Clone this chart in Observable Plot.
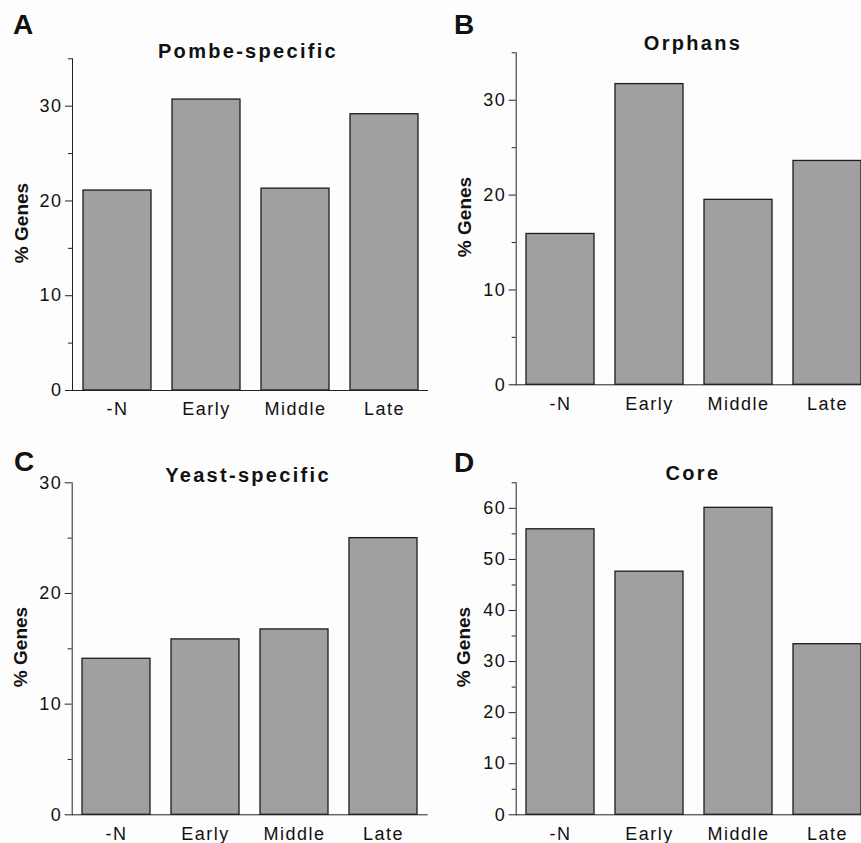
<!DOCTYPE html>
<html>
<head>
<meta charset="utf-8">
<script src="https://cdn.jsdelivr.net/npm/d3@7"></script>
<script src="https://cdn.jsdelivr.net/npm/@observablehq/plot@0.6"></script>
<style>
  html, body { margin: 0; padding: 0; background: #fdfdfd; overflow: hidden; }
  #wrap { position: relative; width: 861px; height: 843px; overflow: hidden; background: #fdfdfd;
          font-family: "Liberation Sans", Arial, Helvetica, sans-serif; color: #111; }
  .panel { position: absolute; }
  .letter { position: absolute; font-weight: bold; font-size: 28px; line-height: 1; }
  .title { position: absolute; font-weight: bold; font-size: 20px; letter-spacing: 2.3px; white-space: nowrap;
           transform: translateX(-50%); line-height: 1; }
  .ylab { position: absolute; font-weight: bold; font-size: 19px; white-space: nowrap; line-height: 1;
          transform: translate(-50%, -50%) rotate(-90deg); }
  svg [aria-label="x-axis tick label"] text, svg [aria-label="y-axis tick label"] text { letter-spacing: 1.5px; }
</style>
</head>
<body>
<div id="wrap"></div>
<script>
// ---- data ----
const categories = ["-N", "Early", "Middle", "Late"];
const pombeSpecific = [21.1, 30.7, 21.3, 29.15];
const orphans = [15.9, 31.7, 19.5, 23.6];
const yeastSpecific = [14.1, 15.85, 16.75, 25.0];
const core = [55.9, 47.6, 60.1, 33.4];

const panelLetters = ["A", "B", "C", "D"];
const panelTitles = ["Pombe-specific", "Orphans", "Yeast-specific", "Core"];
const yLabel = "% Genes";

const majorTicksA = [0, 10, 20, 30];
const minorTicksA = [5, 15, 25, 35];
const majorTicksB = [0, 10, 20, 30];
const minorTicksB = [5, 15, 25, 35];
const majorTicksC = [0, 10, 20, 30];
const minorTicksC = [5, 15, 25];
const majorTicksD = [0, 10, 20, 30, 40, 50, 60];
const minorTicksD = [5, 15, 25, 35, 45, 55, 65];

// ---- layout ----
const wrap = document.getElementById("wrap");

function panel(cfg) {
  const data = categories.map((c, i) => ({cat: c, value: cfg.values[i]}));
  const chart = Plot.plot({
    width: cfg.width,
    height: cfg.height,
    marginLeft: cfg.ml,
    marginRight: cfg.mr,
    marginTop: cfg.mt,
    marginBottom: cfg.mb,
    style: {background: "transparent", fontFamily: '"Liberation Sans", Arial, sans-serif', fontSize: "18px", color: "#111"},
    x: {domain: categories, paddingInner: 0.236, paddingOuter: 0.118, axis: null},
    y: {domain: cfg.domain, axis: null},
    marks: [
      Plot.barY(data, {x: "cat", y: "value", fill: "#a0a0a0", stroke: "#1c1c1c", strokeWidth: 1.3}),
      Plot.frame({anchor: "left", stroke: "#222", strokeWidth: 1}),
      Plot.ruleY([0], {stroke: "#222", strokeWidth: 1}),
      Plot.axisY({ticks: cfg.major, tickSize: 7, tickPadding: 3, label: null, fontSize: 18, stroke: "#222"}),
      Plot.axisY({ticks: cfg.minor, tickSize: 4, tickFormat: () => "", label: null, stroke: "#222"}),
      Plot.axisX({tickSize: 0, tickPadding: 12, label: null, fontSize: 18})
    ]
  });
  chart.classList.add("panel");
  chart.style.left = cfg.left + "px";
  chart.style.top = cfg.top + "px";
  wrap.appendChild(chart);

  const L = document.createElement("div");
  L.className = "letter"; L.textContent = cfg.letter;
  L.style.left = cfg.letterX + "px"; L.style.top = cfg.letterY + "px";
  wrap.appendChild(L);

  const T = document.createElement("div");
  T.className = "title"; T.textContent = cfg.title;
  T.style.left = cfg.titleX + "px"; T.style.top = cfg.titleY + "px";
  wrap.appendChild(T);

  const Y = document.createElement("div");
  Y.className = "ylab"; Y.textContent = yLabel;
  Y.style.left = cfg.ylabX + "px"; Y.style.top = cfg.ylabY + "px";
  wrap.appendChild(Y);
}

panel({values: pombeSpecific, domain: [0, 35], major: majorTicksA, minor: minorTicksA,
  left: 0, top: 0, width: 430, height: 430, ml: 72, mr: 2, mt: 58.3, mb: 40,
  letter: panelLetters[0], letterX: 13, letterY: 11,
  title: panelTitles[0], titleX: 248, titleY: 41, ylabX: 21, ylabY: 223});

panel({values: orphans, domain: [0, 35], major: majorTicksB, minor: minorTicksB,
  left: 430, top: 0, width: 446, height: 430, ml: 85.7, mr: 4.3, mt: 52.3, mb: 45.7,
  letter: panelLetters[1], letterX: 454, letterY: 11,
  title: panelTitles[1], titleX: 693, titleY: 33, ylabX: 464, ylabY: 217});

panel({values: yeastSpecific, domain: [0, 30], major: majorTicksC, minor: minorTicksC,
  left: 0, top: 420, width: 430, height: 423, ml: 71.7, mr: 2.3, mt: 62.3, mb: 28.7,
  letter: panelLetters[2], letterX: 14, letterY: 448,
  title: panelTitles[2], titleX: 248, titleY: 465, ylabX: 20, ylabY: 647});

panel({values: core, domain: [0, 65], major: majorTicksD, minor: minorTicksD,
  left: 430, top: 420, width: 446, height: 423, ml: 85.7, mr: 4.3, mt: 62.3, mb: 28.7,
  letter: panelLetters[3], letterX: 454, letterY: 449,
  title: panelTitles[3], titleX: 693, titleY: 463, ylabX: 463, ylabY: 647});
</script>
</body>
</html>
